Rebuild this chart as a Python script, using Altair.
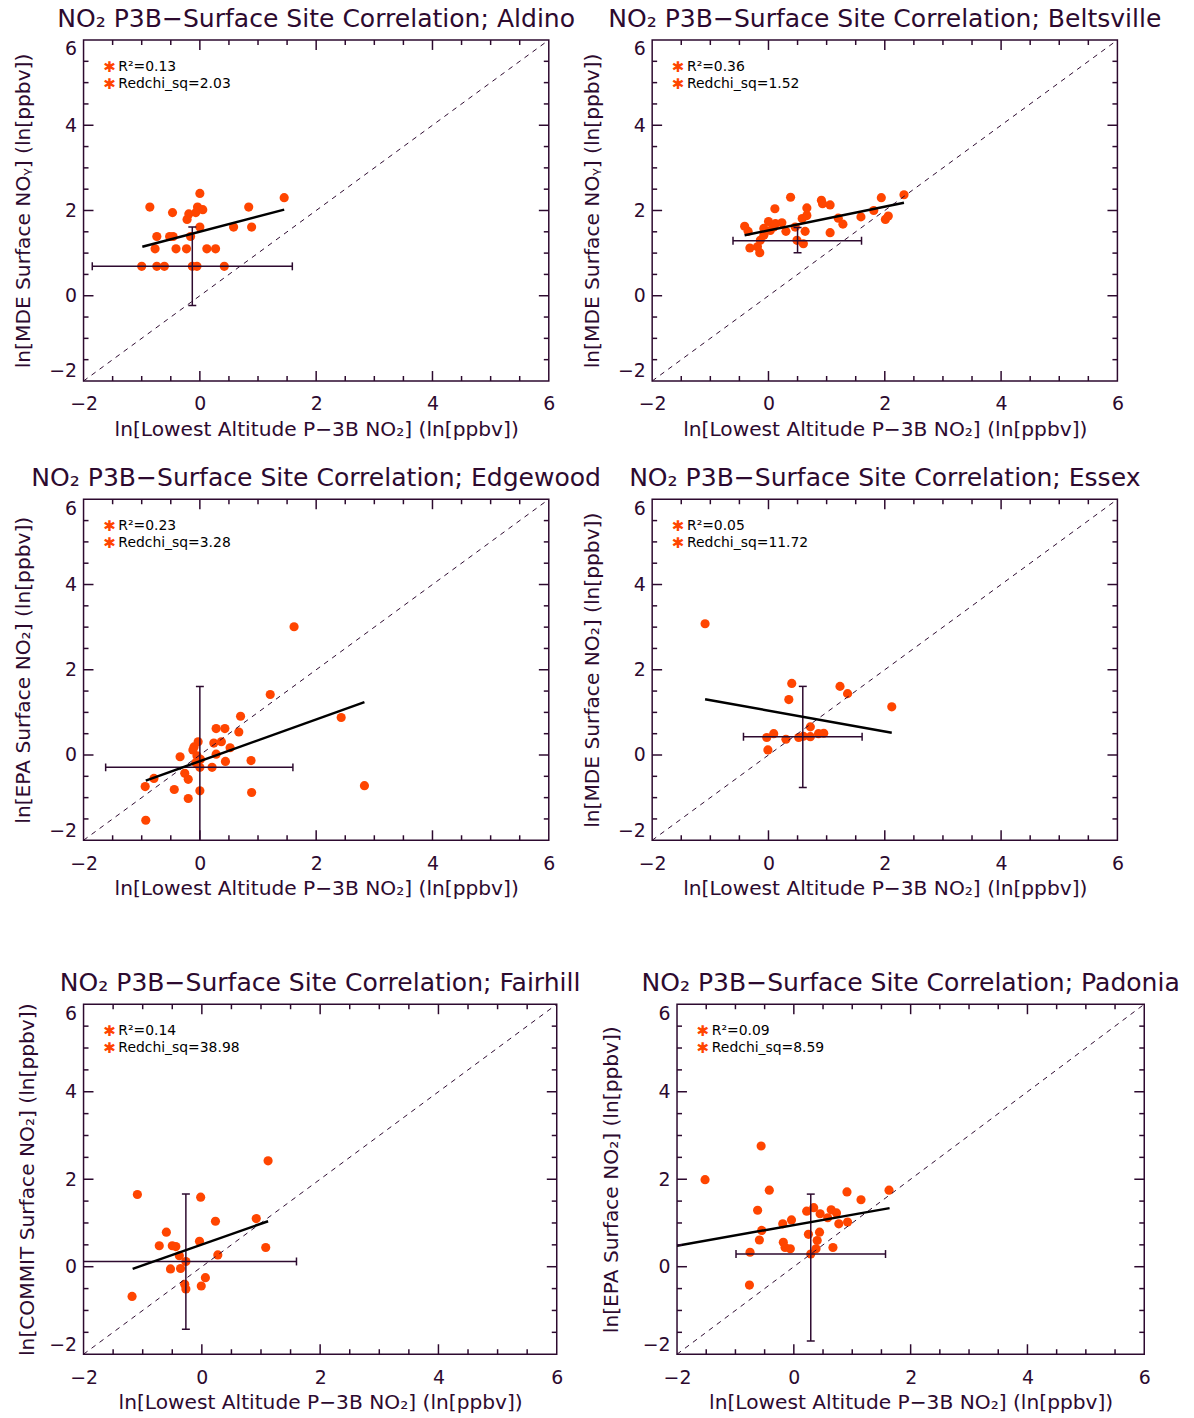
import altair as alt
import pandas as pd

PURPLE = "#2d0a2f"
ORANGE = "#ff4500"
FONT = "DejaVu Sans"

# ---------------- data ----------------
sites = ["Aldino", "Beltsville", "Edgewood", "Essex", "Fairhill", "Padonia"]
y_titles = [
    "ln[MDE Surface NOᵧ] (ln[ppbv])",
    "ln[MDE Surface NOᵧ] (ln[ppbv])",
    "ln[EPA Surface NO₂] (ln[ppbv])",
    "ln[MDE Surface NO₂] (ln[ppbv])",
    "ln[COMMIT Surface NO₂] (ln[ppbv])",
    "ln[EPA Surface NO₂] (ln[ppbv])",
]
x_title = "ln[Lowest Altitude P−3B NO₂] (ln[ppbv])"
r2_vals = ["0.13", "0.36", "0.23", "0.05", "0.14", "0.09"]
chi_vals = ["2.03", "1.52", "3.28", "11.72", "38.98", "8.59"]

aldino_x = [-0.86, -0.47, 0.0, -0.04, -0.19, 0.05, -0.07, -0.22, 0.0, 0.84, 1.45, 0.58, 0.89,
            -0.74, -0.52, -0.46, -0.16, -0.77, -0.41, -0.23, 0.12, 0.27, -1.0, -0.74, -0.61,
            -0.13, -0.05, 0.42]
aldino_y = [2.08, 1.95, 2.40, 2.08, 1.92, 2.02, 1.95, 1.79, 1.61, 2.08, 2.30, 1.61, 1.61,
            1.39, 1.39, 1.39, 1.39, 1.10, 1.10, 1.10, 1.10, 1.10, 0.69, 0.69, 0.69,
            0.69, 0.69, 0.69]

belts_x = [-0.41, -0.35, -0.32, -0.15, -0.19, -0.14, -0.08, -0.08, 0.0, 0.03, 0.09, 0.12, 0.11,
           0.23, 0.30, 0.38, 0.46, 0.49, 0.60, 0.63, 0.58, 0.66, 0.66, 0.91, 0.93, 1.06, 1.06,
           1.20, 1.28, 1.59, 1.81, 1.94, 2.01, 2.06, 2.33]
belts_y = [1.63, 1.51, 1.12, 1.01, 1.15, 1.30, 1.42, 1.58, 1.74, 1.53, 1.61, 1.69, 2.04,
           1.71, 1.51, 2.31, 1.61, 1.30, 1.22, 1.51, 1.81, 1.88, 2.06, 2.24, 2.16, 2.13, 1.48,
           1.82, 1.68, 1.85, 2.00, 2.30, 1.79, 1.87, 2.37]

edge_x = [1.62, 1.21, 2.43, 2.83, 0.70, 0.28, 0.43, 0.67, 0.24, 0.37, -0.03, -0.10, -0.12,
          0.52, 0.28, -0.05, 0.01, -0.34, 0.44, 0.88, -0.07, 0.0, 0.21, -0.26, -0.20, -0.79,
          -0.94, -0.44, 0.0, -0.20, 0.89, -0.93]
edge_y = [3.01, 1.42, 0.88, -0.72, 0.91, 0.62, 0.62, 0.54, 0.28, 0.31, 0.31, 0.19, 0.12,
          0.17, 0.02, -0.02, -0.10, -0.04, -0.15, -0.13, -0.18, -0.29, -0.29, -0.43, -0.57, -0.55,
          -0.74, -0.81, -0.84, -1.02, -0.88, -1.53]

essex_x = [-1.09, 0.40, 0.35, 1.23, 1.36, 2.12, 0.72, -0.03, 0.09, 0.30, 0.52, 0.60, 0.72,
           0.86, 0.95, -0.01]
essex_y = [3.08, 1.68, 1.30, 1.61, 1.44, 1.13, 0.66, 0.41, 0.50, 0.37, 0.41, 0.44, 0.43,
           0.50, 0.51, 0.12]

fair_x = [1.12, -1.09, -0.02, 0.23, 0.92, -0.60, -0.04, -0.72, -0.50, -0.44, 1.08, -0.38,
          0.27, -0.27, -0.53, -0.36, 0.06, -0.29, -0.27, -0.01, -1.18]
fair_y = [2.42, 1.65, 1.59, 1.04, 1.10, 0.79, 0.58, 0.48, 0.48, 0.46, 0.44, 0.25,
          0.27, 0.12, -0.05, -0.04, -0.25, -0.40, -0.51, -0.44, -0.68]

pad_x = [-0.56, -1.52, -0.42, 0.91, 1.15, 1.63, -0.62, 0.22, 0.34, 0.45, 0.64, 0.58, 0.73,
         -0.04, -0.19, 0.77, 0.92, -0.55, -0.59, 0.25, 0.44, 0.40, -0.18, -0.15, -0.06, 0.38,
         0.67, -0.75, 0.29, -0.76]
pad_y = [2.76, 1.99, 1.75, 1.71, 1.53, 1.75, 1.29, 1.27, 1.35, 1.21, 1.30, 1.12, 1.23,
         1.07, 0.98, 0.98, 1.02, 0.83, 0.61, 0.74, 0.79, 0.60, 0.56, 0.44, 0.41, 0.41,
         0.44, 0.33, 0.29, -0.42]

# fitted lines (endpoints)
fit_x = [[-0.99, 1.45], [-0.41, 2.33], [-0.93, 2.83], [-1.09, 2.12], [-1.17, 1.12], [-2.0, 1.64]]
fit_y = [[1.15, 2.02], [1.42, 2.18], [-0.60, 1.24], [1.31, 0.52], [-0.05, 1.04], [0.48, 1.34]]

# error bars: horizontal bar (x_lo, x_hi, at y), vertical bar (at x, y_lo, y_hi)
hbar_lo = [-1.85, -0.61, -1.62, -0.43, -2.3, -0.99]
hbar_hi = [1.59, 1.60, 1.60, 1.61, 1.60, 1.57]
hbar_y = [0.69, 1.29, -0.29, 0.43, 0.12, 0.29]
vbar_x = [-0.13, 0.50, 0.0, 0.59, -0.27, 0.29]
vbar_lo = [-0.23, 1.01, -2.3, -0.76, -1.43, -1.70]
vbar_hi = [1.61, 1.60, 1.61, 1.61, 1.66, 1.66]

xs_all = [aldino_x, belts_x, edge_x, essex_x, fair_x, pad_x]
ys_all = [aldino_y, belts_y, edge_y, essex_y, fair_y, pad_y]

diag = [-2, 6]
major_ticks = [0, 2, 4]
minor_ticks = [-1.5, -1, -0.5, 0.5, 1, 1.5, 2.5, 3, 3.5, 4.5, 5, 5.5]
label_vals = [-2, 0, 2, 4, 6]

MAJ = 10
MIN = 5


def panel(i, W, H, ytp):
    sc = alt.Scale(domain=[-2, 6], nice=False, zero=False)
    xax = alt.Axis(values=label_vals, title=x_title, ticks=False, domain=False, grid=False,
                   labelPadding=14, titlePadding=6, format="d", labelFlush=False)
    yax = alt.Axis(values=label_vals, title=y_titles[i], ticks=False, domain=False, grid=False,
                   labelPadding=7, titlePadding=ytp, format="d", labelFlush=True)

    def X(f):
        return alt.X(f, scale=sc, axis=xax)

    def Y(f):
        return alt.Y(f, scale=sc, axis=yax)

    pts = pd.DataFrame({"x": xs_all[i], "y": ys_all[i]})
    base_pts = alt.Chart(pts).mark_circle(size=85, color=ORANGE, opacity=1).encode(
        x=X("x:Q"), y=Y("y:Q"))
    dline = alt.Chart(pd.DataFrame({"x": diag, "y": diag})).mark_line(
        color=PURPLE, strokeWidth=1, strokeDash=[5, 5]
    ).encode(x=X("x:Q"), y=Y("y:Q"))
    fline = alt.Chart(pd.DataFrame({"x": fit_x[i], "y": fit_y[i]})).mark_line(
        color="black", strokeWidth=2.5, clip=True
    ).encode(x=X("x:Q"), y=Y("y:Q"))

    eb = pd.DataFrame({"hlo": [hbar_lo[i]], "hhi": [hbar_hi[i]], "hy": [hbar_y[i]],
                       "vx": [vbar_x[i]], "vlo": [vbar_lo[i]], "vhi": [vbar_hi[i]]})
    hrule = alt.Chart(eb).mark_rule(color=PURPLE, strokeWidth=1.5, clip=True).encode(
        x=X("hlo:Q"), x2="hhi:Q", y=Y("hy:Q"))
    vrule = alt.Chart(eb).mark_rule(color=PURPLE, strokeWidth=1.5, clip=True).encode(
        x=X("vx:Q"), y=Y("vlo:Q"), y2="vhi:Q")
    capv = "M0,-1L0,1"
    caph = "M-1,0L1,0"

    def cap(shape, xf, yf):
        return alt.Chart(eb).mark_point(shape=shape, size=64, stroke=PURPLE, strokeWidth=1.5,
                                        filled=False, opacity=1, clip=True).encode(
            x=X(xf), y=Y(yf))

    caps = [cap(capv, "hlo:Q", "hy:Q"), cap(capv, "hhi:Q", "hy:Q"),
            cap(caph, "vx:Q", "vlo:Q"), cap(caph, "vx:Q", "vhi:Q")]

    tick_layers = []
    for vals, L in ((major_ticks, MAJ), (minor_ticks, MIN)):
        td = pd.DataFrame({"v": vals})
        tick_layers += [
            alt.Chart(td).mark_rule(color=PURPLE, strokeWidth=1.5).encode(
                x=X("v:Q"), y=alt.value(H), y2=alt.value(H - L)),
            alt.Chart(td).mark_rule(color=PURPLE, strokeWidth=1.5).encode(
                x=X("v:Q"), y=alt.value(0), y2=alt.value(L)),
            alt.Chart(td).mark_rule(color=PURPLE, strokeWidth=1.5).encode(
                y=Y("v:Q"), x=alt.value(0), x2=alt.value(L)),
            alt.Chart(td).mark_rule(color=PURPLE, strokeWidth=1.5).encode(
                y=Y("v:Q"), x=alt.value(W), x2=alt.value(W - L)),
        ]

    one = pd.DataFrame({"r2": ["R²=" + r2_vals[i]], "chi": ["Redchi_sq=" + chi_vals[i]]})
    star1 = alt.Chart(one).mark_text(text="✱", color=ORANGE, fontSize=15, font=FONT).encode(
        x=alt.value(26), y=alt.value(27))
    star2 = alt.Chart(one).mark_text(text="✱", color=ORANGE, fontSize=15, font=FONT).encode(
        x=alt.value(26), y=alt.value(44))
    t1 = alt.Chart(one).mark_text(align="left", baseline="middle", fontSize=14, font=FONT,
                                  color="black").encode(text="r2:N", x=alt.value(35), y=alt.value(27))
    t2 = alt.Chart(one).mark_text(align="left", baseline="middle", fontSize=14, font=FONT,
                                  color="black").encode(text="chi:N", x=alt.value(35), y=alt.value(44))

    title = alt.TitleParams(
        text="NO₂ P3B−Surface Site Correlation; " + sites[i],
        fontSize=25.2, font=FONT, fontWeight="normal", color=PURPLE, anchor="middle",
        offset=0, frame="group", dy=-6,
    )
    return alt.layer(
        base_pts, dline, hrule, vrule, *caps, fline,
        *tick_layers, star1, star2, t1, t2,
    ).properties(width=W, height=H, title=title)


row1 = alt.hconcat(panel(0, 468, 343, 15), panel(1, 468, 343, 15), spacing=104, bounds="flush")
row2 = alt.hconcat(panel(2, 468, 343, 15), panel(3, 468, 343, 15), spacing=104, bounds="flush")
row3 = alt.hconcat(panel(4, 476, 352, 11), panel(5, 470, 352, 21), spacing=121, bounds="flush")

top = alt.vconcat(row1, row2, spacing=24)
chart = alt.vconcat(top, row3, spacing=70).properties(
    padding={"left": 5, "top": -6, "right": 5, "bottom": 0}
).configure_view(
    stroke=PURPLE, strokeWidth=1.5
).configure_axis(
    labelFont=FONT, titleFont=FONT, labelFontSize=19, titleFontSize=20.3,
    labelColor=PURPLE, titleColor=PURPLE, titleFontWeight="normal",
)

chart.save("out.html", embed_options={"renderer": "svg", "actions": False})
